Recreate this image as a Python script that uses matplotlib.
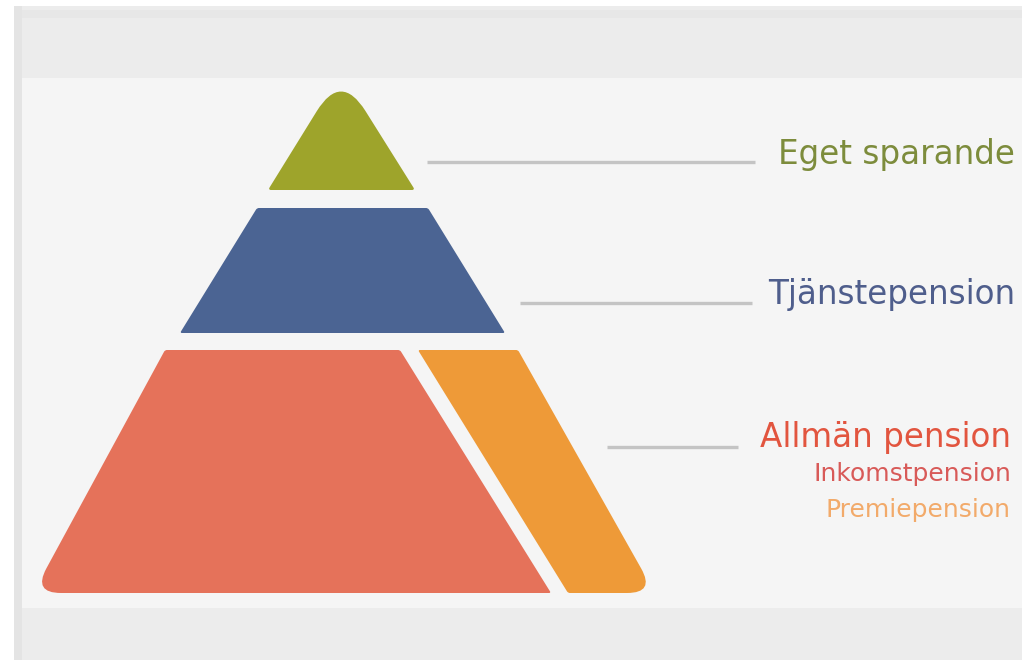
import matplotlib
matplotlib.use("Agg")
import matplotlib.pyplot as plt
from matplotlib.path import Path
from matplotlib.patches import PathPatch, Rectangle
import numpy as np

# ---- data ----
labels = ["Eget sparande", "Tjänstepension", "Allmän pension"]
sublabels = ["Inkomstpension", "Premiepension"]
layer_colors = ["#9ea42b", "#4b6493", "#e5725a", "#ee9a38"]
label_colors = ["#7d8c3c", "#4f5e8c", "#e2553f"]
sublabel_colors = ["#d85a58", "#f2aa6a"]

# pyramid layer outlines (pixel space of the 1022x660 picture)
olive_pts = [(268, 190), (341, 72), (415, 190)]
olive_r = [3, 46, 3]
blue_pts = [(257, 208), (428, 208), (505, 333), (180, 333)]
blue_r = [2, 2, 2, 2]
red_pts = [(165, 350), (400, 350), (551, 593), (33, 593)]
red_r = [2, 2, 2, 28]
orange_pts = [(418, 350), (518, 350), (655, 593), (568, 593)]
orange_r = [2, 2, 28, 2]

# leader lines: (x0, x1, y)
leaders = [(427, 755, 162), (520, 752, 303), (607, 738, 447)]
label_pos = [(1015, 164), (1015, 304), (1011, 447)]
sublabel_pos = [(1011, 481), (1011, 517)]


def rounded_path(pts, radii):
    pts = np.asarray(pts, float)
    n = len(pts)
    verts, codes = [], []
    for i in range(n):
        v = pts[i]
        prev = pts[i - 1]
        nxt = pts[(i + 1) % n]
        r = radii[i]
        d1 = (prev - v) / np.linalg.norm(prev - v)
        d2 = (nxt - v) / np.linalg.norm(nxt - v)
        p_in = v + d1 * r
        p_out = v + d2 * r
        if i == 0:
            verts.append(p_in); codes.append(Path.MOVETO)
        else:
            verts.append(p_in); codes.append(Path.LINETO)
        verts.extend([v, p_out]); codes.extend([Path.CURVE3, Path.CURVE3])
    verts.append(verts[0]); codes.append(Path.CLOSEPOLY)
    return Path(verts, codes)


fig = plt.figure(figsize=(10.22, 6.6), dpi=100)
fig.patch.set_facecolor("white")
ax = fig.add_axes([0, 0, 1, 1])
ax.set_xlim(0, 1022)
ax.set_ylim(660, 0)
ax.axis("off")

# background panels
ax.add_patch(Rectangle((14, 6), 1008, 654, facecolor="#ececec", edgecolor="none"))
ax.add_patch(Rectangle((22, 78), 1000, 530, facecolor="#f5f5f5", edgecolor="none"))
ax.add_patch(Rectangle((14, 6), 8, 654, facecolor="#e4e4e4", edgecolor="none"))
ax.add_patch(Rectangle((22, 10), 1000, 8, facecolor="#e7e7e7", edgecolor="none"))

for pts, rr, col in [(olive_pts, olive_r, layer_colors[0]),
                     (blue_pts, blue_r, layer_colors[1]),
                     (red_pts, red_r, layer_colors[2]),
                     (orange_pts, orange_r, layer_colors[3])]:
    ax.add_patch(PathPatch(rounded_path(pts, rr), facecolor=col, edgecolor="none"))

for (x0, x1, y) in leaders:
    ax.plot([x0, x1], [y, y], color="#c4c4c4", lw=2.4, solid_capstyle="butt")

font = ["DejaVu Sans"]
for lab, col, (x, y) in zip(labels, label_colors, label_pos):
    ax.text(x, y, lab, color=col, fontsize=23.5, ha="right", va="baseline", family=font)
for lab, col, (x, y) in zip(sublabels, sublabel_colors, sublabel_pos):
    ax.text(x, y, lab, color=col, fontsize=18, ha="right", va="baseline", family=font)

fig.savefig("out.png", dpi=100, facecolor=fig.get_facecolor())
